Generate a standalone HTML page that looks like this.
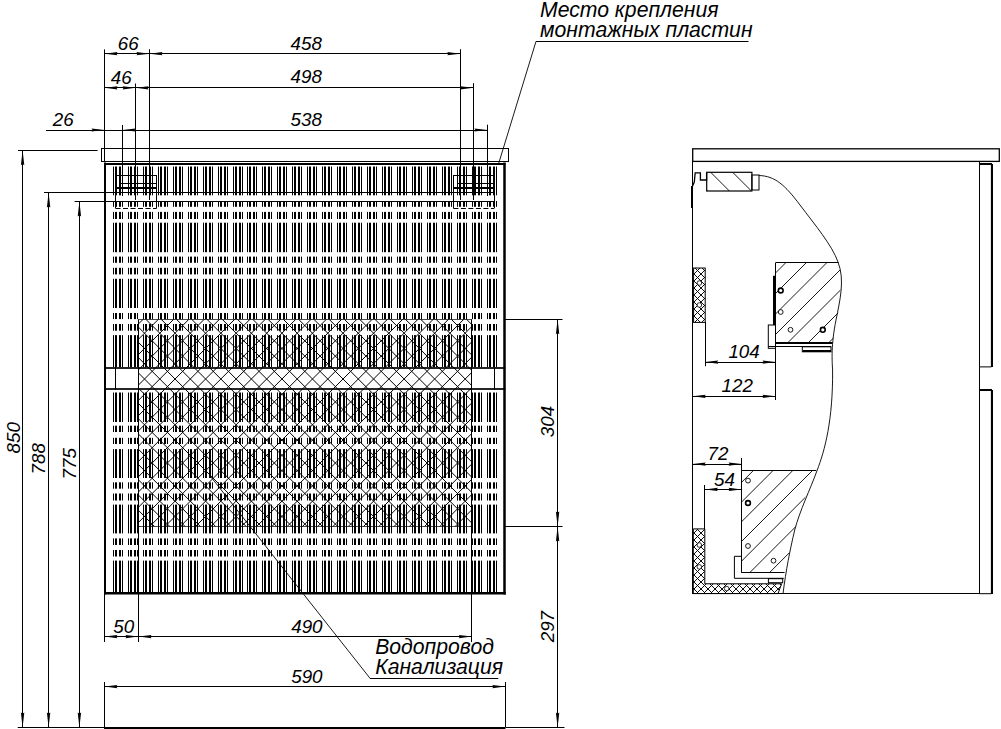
<!DOCTYPE html>
<html><head><meta charset="utf-8"><title>Drawing</title><style>html,body{margin:0;padding:0;background:#fff;width:1001px;height:729px;overflow:hidden}svg{display:block;font-family:"Liberation Sans",sans-serif}</style></head><body>
<svg width="1001" height="729" viewBox="0 0 1001 729" stroke="#000" font-family="Liberation Sans, sans-serif" font-style="italic" fill="#000"><defs><clipPath id="chc"><rect x="138.5" y="319.3" width="333.3" height="207.1"/></clipPath><clipPath id="hb1"><rect x="706.7" y="172.3" width="45.2" height="18.7"/></clipPath><pattern id="xh" patternUnits="userSpaceOnUse" x="1" y="1" width="7" height="7"><path d="M-1 -1L8 8M8 -1L-1 8" stroke="#000" stroke-width="0.95"/></pattern><clipPath id="hb2"><path d="M775.5 262.8H838.5C842 275 841 300 837 320C834 335 833 340 832.5 343H775.5Z"/></clipPath><clipPath id="hb3"><path d="M741.6 470.7H816.3C812 482 807 492 804.6 499.3C800 512 797 520 794.7 530C792 540 790 550 788.2 558.5C786 566 785 570 784.6 572.8H741.6Z"/></clipPath></defs><rect width="1001" height="729" fill="#fff" stroke="none"/><g stroke="none"></g><rect stroke="none" x="113" y="166" width="1" height="201" fill="#000"/>
<rect stroke="none" x="115" y="166" width="2" height="201" fill="#000"/>
<rect stroke="none" x="119" y="166" width="2" height="201" fill="#000"/>
<rect stroke="none" x="122" y="166" width="1" height="201" fill="#000"/>
<rect stroke="none" x="128" y="166" width="1" height="201" fill="#000"/>
<rect stroke="none" x="130" y="166" width="2" height="201" fill="#000"/>
<rect stroke="none" x="134" y="166" width="2" height="201" fill="#000"/>
<rect stroke="none" x="137" y="166" width="1" height="201" fill="#000"/>
<rect stroke="none" x="143" y="166" width="1" height="201" fill="#000"/>
<rect stroke="none" x="145" y="166" width="2" height="201" fill="#000"/>
<rect stroke="none" x="149" y="166" width="2" height="201" fill="#000"/>
<rect stroke="none" x="152" y="166" width="1" height="201" fill="#000"/>
<rect stroke="none" x="158" y="166" width="1" height="201" fill="#000"/>
<rect stroke="none" x="160" y="166" width="2" height="201" fill="#000"/>
<rect stroke="none" x="164" y="166" width="2" height="201" fill="#000"/>
<rect stroke="none" x="167" y="166" width="1" height="201" fill="#000"/>
<rect stroke="none" x="173" y="166" width="1" height="201" fill="#000"/>
<rect stroke="none" x="175" y="166" width="2" height="201" fill="#000"/>
<rect stroke="none" x="179" y="166" width="2" height="201" fill="#000"/>
<rect stroke="none" x="182" y="166" width="1" height="201" fill="#000"/>
<rect stroke="none" x="188" y="166" width="1" height="201" fill="#000"/>
<rect stroke="none" x="190" y="166" width="2" height="201" fill="#000"/>
<rect stroke="none" x="194" y="166" width="2" height="201" fill="#000"/>
<rect stroke="none" x="197" y="166" width="1" height="201" fill="#000"/>
<rect stroke="none" x="203" y="166" width="1" height="201" fill="#000"/>
<rect stroke="none" x="205" y="166" width="2" height="201" fill="#000"/>
<rect stroke="none" x="209" y="166" width="2" height="201" fill="#000"/>
<rect stroke="none" x="212" y="166" width="1" height="201" fill="#000"/>
<rect stroke="none" x="218" y="166" width="1" height="201" fill="#000"/>
<rect stroke="none" x="220" y="166" width="2" height="201" fill="#000"/>
<rect stroke="none" x="224" y="166" width="2" height="201" fill="#000"/>
<rect stroke="none" x="227" y="166" width="1" height="201" fill="#000"/>
<rect stroke="none" x="233" y="166" width="1" height="201" fill="#000"/>
<rect stroke="none" x="235" y="166" width="2" height="201" fill="#000"/>
<rect stroke="none" x="239" y="166" width="2" height="201" fill="#000"/>
<rect stroke="none" x="242" y="166" width="1" height="201" fill="#000"/>
<rect stroke="none" x="247" y="166" width="1" height="201" fill="#000"/>
<rect stroke="none" x="249" y="166" width="2" height="201" fill="#000"/>
<rect stroke="none" x="253" y="166" width="2" height="201" fill="#000"/>
<rect stroke="none" x="256" y="166" width="1" height="201" fill="#000"/>
<rect stroke="none" x="262" y="166" width="1" height="201" fill="#000"/>
<rect stroke="none" x="264" y="166" width="2" height="201" fill="#000"/>
<rect stroke="none" x="268" y="166" width="2" height="201" fill="#000"/>
<rect stroke="none" x="271" y="166" width="1" height="201" fill="#000"/>
<rect stroke="none" x="277" y="166" width="1" height="201" fill="#000"/>
<rect stroke="none" x="279" y="166" width="2" height="201" fill="#000"/>
<rect stroke="none" x="283" y="166" width="2" height="201" fill="#000"/>
<rect stroke="none" x="286" y="166" width="1" height="201" fill="#000"/>
<rect stroke="none" x="292" y="166" width="1" height="201" fill="#000"/>
<rect stroke="none" x="294" y="166" width="2" height="201" fill="#000"/>
<rect stroke="none" x="298" y="166" width="2" height="201" fill="#000"/>
<rect stroke="none" x="301" y="166" width="1" height="201" fill="#000"/>
<rect stroke="none" x="307" y="166" width="1" height="201" fill="#000"/>
<rect stroke="none" x="309" y="166" width="2" height="201" fill="#000"/>
<rect stroke="none" x="313" y="166" width="2" height="201" fill="#000"/>
<rect stroke="none" x="316" y="166" width="1" height="201" fill="#000"/>
<rect stroke="none" x="322" y="166" width="1" height="201" fill="#000"/>
<rect stroke="none" x="324" y="166" width="2" height="201" fill="#000"/>
<rect stroke="none" x="328" y="166" width="2" height="201" fill="#000"/>
<rect stroke="none" x="331" y="166" width="1" height="201" fill="#000"/>
<rect stroke="none" x="337" y="166" width="1" height="201" fill="#000"/>
<rect stroke="none" x="339" y="166" width="2" height="201" fill="#000"/>
<rect stroke="none" x="343" y="166" width="2" height="201" fill="#000"/>
<rect stroke="none" x="346" y="166" width="1" height="201" fill="#000"/>
<rect stroke="none" x="352" y="166" width="1" height="201" fill="#000"/>
<rect stroke="none" x="354" y="166" width="2" height="201" fill="#000"/>
<rect stroke="none" x="358" y="166" width="2" height="201" fill="#000"/>
<rect stroke="none" x="361" y="166" width="1" height="201" fill="#000"/>
<rect stroke="none" x="367" y="166" width="1" height="201" fill="#000"/>
<rect stroke="none" x="369" y="166" width="2" height="201" fill="#000"/>
<rect stroke="none" x="373" y="166" width="2" height="201" fill="#000"/>
<rect stroke="none" x="376" y="166" width="1" height="201" fill="#000"/>
<rect stroke="none" x="382" y="166" width="1" height="201" fill="#000"/>
<rect stroke="none" x="384" y="166" width="2" height="201" fill="#000"/>
<rect stroke="none" x="388" y="166" width="2" height="201" fill="#000"/>
<rect stroke="none" x="391" y="166" width="1" height="201" fill="#000"/>
<rect stroke="none" x="397" y="166" width="1" height="201" fill="#000"/>
<rect stroke="none" x="399" y="166" width="2" height="201" fill="#000"/>
<rect stroke="none" x="403" y="166" width="2" height="201" fill="#000"/>
<rect stroke="none" x="406" y="166" width="1" height="201" fill="#000"/>
<rect stroke="none" x="412" y="166" width="1" height="201" fill="#000"/>
<rect stroke="none" x="414" y="166" width="2" height="201" fill="#000"/>
<rect stroke="none" x="418" y="166" width="2" height="201" fill="#000"/>
<rect stroke="none" x="421" y="166" width="1" height="201" fill="#000"/>
<rect stroke="none" x="427" y="166" width="1" height="201" fill="#000"/>
<rect stroke="none" x="429" y="166" width="2" height="201" fill="#000"/>
<rect stroke="none" x="433" y="166" width="2" height="201" fill="#000"/>
<rect stroke="none" x="436" y="166" width="1" height="201" fill="#000"/>
<rect stroke="none" x="442" y="166" width="1" height="201" fill="#000"/>
<rect stroke="none" x="444" y="166" width="2" height="201" fill="#000"/>
<rect stroke="none" x="448" y="166" width="2" height="201" fill="#000"/>
<rect stroke="none" x="451" y="166" width="1" height="201" fill="#000"/>
<rect stroke="none" x="457" y="166" width="1" height="201" fill="#000"/>
<rect stroke="none" x="459" y="166" width="2" height="201" fill="#000"/>
<rect stroke="none" x="463" y="166" width="2" height="201" fill="#000"/>
<rect stroke="none" x="466" y="166" width="1" height="201" fill="#000"/>
<rect stroke="none" x="472" y="166" width="1" height="201" fill="#000"/>
<rect stroke="none" x="474" y="166" width="2" height="201" fill="#000"/>
<rect stroke="none" x="478" y="166" width="2" height="201" fill="#000"/>
<rect stroke="none" x="481" y="166" width="1" height="201" fill="#000"/>
<rect stroke="none" x="487" y="166" width="1" height="201" fill="#000"/>
<rect stroke="none" x="489" y="166" width="2" height="201" fill="#000"/>
<rect stroke="none" x="493" y="166" width="2" height="201" fill="#000"/>
<rect stroke="none" x="496" y="166" width="1" height="201" fill="#000"/>
<rect stroke="none" x="113" y="392" width="1" height="201" fill="#000"/>
<rect stroke="none" x="115" y="392" width="2" height="201" fill="#000"/>
<rect stroke="none" x="119" y="392" width="2" height="201" fill="#000"/>
<rect stroke="none" x="122" y="392" width="1" height="201" fill="#000"/>
<rect stroke="none" x="128" y="392" width="1" height="201" fill="#000"/>
<rect stroke="none" x="130" y="392" width="2" height="201" fill="#000"/>
<rect stroke="none" x="134" y="392" width="2" height="201" fill="#000"/>
<rect stroke="none" x="137" y="392" width="1" height="201" fill="#000"/>
<rect stroke="none" x="143" y="392" width="1" height="201" fill="#000"/>
<rect stroke="none" x="145" y="392" width="2" height="201" fill="#000"/>
<rect stroke="none" x="149" y="392" width="2" height="201" fill="#000"/>
<rect stroke="none" x="152" y="392" width="1" height="201" fill="#000"/>
<rect stroke="none" x="158" y="392" width="1" height="201" fill="#000"/>
<rect stroke="none" x="160" y="392" width="2" height="201" fill="#000"/>
<rect stroke="none" x="164" y="392" width="2" height="201" fill="#000"/>
<rect stroke="none" x="167" y="392" width="1" height="201" fill="#000"/>
<rect stroke="none" x="173" y="392" width="1" height="201" fill="#000"/>
<rect stroke="none" x="175" y="392" width="2" height="201" fill="#000"/>
<rect stroke="none" x="179" y="392" width="2" height="201" fill="#000"/>
<rect stroke="none" x="182" y="392" width="1" height="201" fill="#000"/>
<rect stroke="none" x="188" y="392" width="1" height="201" fill="#000"/>
<rect stroke="none" x="190" y="392" width="2" height="201" fill="#000"/>
<rect stroke="none" x="194" y="392" width="2" height="201" fill="#000"/>
<rect stroke="none" x="197" y="392" width="1" height="201" fill="#000"/>
<rect stroke="none" x="203" y="392" width="1" height="201" fill="#000"/>
<rect stroke="none" x="205" y="392" width="2" height="201" fill="#000"/>
<rect stroke="none" x="209" y="392" width="2" height="201" fill="#000"/>
<rect stroke="none" x="212" y="392" width="1" height="201" fill="#000"/>
<rect stroke="none" x="218" y="392" width="1" height="201" fill="#000"/>
<rect stroke="none" x="220" y="392" width="2" height="201" fill="#000"/>
<rect stroke="none" x="224" y="392" width="2" height="201" fill="#000"/>
<rect stroke="none" x="227" y="392" width="1" height="201" fill="#000"/>
<rect stroke="none" x="233" y="392" width="1" height="201" fill="#000"/>
<rect stroke="none" x="235" y="392" width="2" height="201" fill="#000"/>
<rect stroke="none" x="239" y="392" width="2" height="201" fill="#000"/>
<rect stroke="none" x="242" y="392" width="1" height="201" fill="#000"/>
<rect stroke="none" x="247" y="392" width="1" height="201" fill="#000"/>
<rect stroke="none" x="249" y="392" width="2" height="201" fill="#000"/>
<rect stroke="none" x="253" y="392" width="2" height="201" fill="#000"/>
<rect stroke="none" x="256" y="392" width="1" height="201" fill="#000"/>
<rect stroke="none" x="262" y="392" width="1" height="201" fill="#000"/>
<rect stroke="none" x="264" y="392" width="2" height="201" fill="#000"/>
<rect stroke="none" x="268" y="392" width="2" height="201" fill="#000"/>
<rect stroke="none" x="271" y="392" width="1" height="201" fill="#000"/>
<rect stroke="none" x="277" y="392" width="1" height="201" fill="#000"/>
<rect stroke="none" x="279" y="392" width="2" height="201" fill="#000"/>
<rect stroke="none" x="283" y="392" width="2" height="201" fill="#000"/>
<rect stroke="none" x="286" y="392" width="1" height="201" fill="#000"/>
<rect stroke="none" x="292" y="392" width="1" height="201" fill="#000"/>
<rect stroke="none" x="294" y="392" width="2" height="201" fill="#000"/>
<rect stroke="none" x="298" y="392" width="2" height="201" fill="#000"/>
<rect stroke="none" x="301" y="392" width="1" height="201" fill="#000"/>
<rect stroke="none" x="307" y="392" width="1" height="201" fill="#000"/>
<rect stroke="none" x="309" y="392" width="2" height="201" fill="#000"/>
<rect stroke="none" x="313" y="392" width="2" height="201" fill="#000"/>
<rect stroke="none" x="316" y="392" width="1" height="201" fill="#000"/>
<rect stroke="none" x="322" y="392" width="1" height="201" fill="#000"/>
<rect stroke="none" x="324" y="392" width="2" height="201" fill="#000"/>
<rect stroke="none" x="328" y="392" width="2" height="201" fill="#000"/>
<rect stroke="none" x="331" y="392" width="1" height="201" fill="#000"/>
<rect stroke="none" x="337" y="392" width="1" height="201" fill="#000"/>
<rect stroke="none" x="339" y="392" width="2" height="201" fill="#000"/>
<rect stroke="none" x="343" y="392" width="2" height="201" fill="#000"/>
<rect stroke="none" x="346" y="392" width="1" height="201" fill="#000"/>
<rect stroke="none" x="352" y="392" width="1" height="201" fill="#000"/>
<rect stroke="none" x="354" y="392" width="2" height="201" fill="#000"/>
<rect stroke="none" x="358" y="392" width="2" height="201" fill="#000"/>
<rect stroke="none" x="361" y="392" width="1" height="201" fill="#000"/>
<rect stroke="none" x="367" y="392" width="1" height="201" fill="#000"/>
<rect stroke="none" x="369" y="392" width="2" height="201" fill="#000"/>
<rect stroke="none" x="373" y="392" width="2" height="201" fill="#000"/>
<rect stroke="none" x="376" y="392" width="1" height="201" fill="#000"/>
<rect stroke="none" x="382" y="392" width="1" height="201" fill="#000"/>
<rect stroke="none" x="384" y="392" width="2" height="201" fill="#000"/>
<rect stroke="none" x="388" y="392" width="2" height="201" fill="#000"/>
<rect stroke="none" x="391" y="392" width="1" height="201" fill="#000"/>
<rect stroke="none" x="397" y="392" width="1" height="201" fill="#000"/>
<rect stroke="none" x="399" y="392" width="2" height="201" fill="#000"/>
<rect stroke="none" x="403" y="392" width="2" height="201" fill="#000"/>
<rect stroke="none" x="406" y="392" width="1" height="201" fill="#000"/>
<rect stroke="none" x="412" y="392" width="1" height="201" fill="#000"/>
<rect stroke="none" x="414" y="392" width="2" height="201" fill="#000"/>
<rect stroke="none" x="418" y="392" width="2" height="201" fill="#000"/>
<rect stroke="none" x="421" y="392" width="1" height="201" fill="#000"/>
<rect stroke="none" x="427" y="392" width="1" height="201" fill="#000"/>
<rect stroke="none" x="429" y="392" width="2" height="201" fill="#000"/>
<rect stroke="none" x="433" y="392" width="2" height="201" fill="#000"/>
<rect stroke="none" x="436" y="392" width="1" height="201" fill="#000"/>
<rect stroke="none" x="442" y="392" width="1" height="201" fill="#000"/>
<rect stroke="none" x="444" y="392" width="2" height="201" fill="#000"/>
<rect stroke="none" x="448" y="392" width="2" height="201" fill="#000"/>
<rect stroke="none" x="451" y="392" width="1" height="201" fill="#000"/>
<rect stroke="none" x="457" y="392" width="1" height="201" fill="#000"/>
<rect stroke="none" x="459" y="392" width="2" height="201" fill="#000"/>
<rect stroke="none" x="463" y="392" width="2" height="201" fill="#000"/>
<rect stroke="none" x="466" y="392" width="1" height="201" fill="#000"/>
<rect stroke="none" x="472" y="392" width="1" height="201" fill="#000"/>
<rect stroke="none" x="474" y="392" width="2" height="201" fill="#000"/>
<rect stroke="none" x="478" y="392" width="2" height="201" fill="#000"/>
<rect stroke="none" x="481" y="392" width="1" height="201" fill="#000"/>
<rect stroke="none" x="487" y="392" width="1" height="201" fill="#000"/>
<rect stroke="none" x="489" y="392" width="2" height="201" fill="#000"/>
<rect stroke="none" x="493" y="392" width="2" height="201" fill="#000"/>
<rect stroke="none" x="496" y="392" width="1" height="201" fill="#000"/>
<rect stroke="none" x="105" y="195.3" width="400.5" height="5.7" fill="#fff"/>
<rect stroke="none" x="105" y="206.8" width="400.5" height="5.1" fill="#fff"/>
<rect stroke="none" x="105" y="219" width="400.5" height="3.7" fill="#fff"/>
<rect stroke="none" x="105" y="252.2" width="400.5" height="4.4" fill="#fff"/>
<rect stroke="none" x="105" y="262.8" width="400.5" height="5" fill="#fff"/>
<rect stroke="none" x="105" y="274.4" width="400.5" height="4.4" fill="#fff"/>
<rect stroke="none" x="105" y="308" width="400.5" height="5" fill="#fff"/>
<rect stroke="none" x="105" y="319.1" width="400.5" height="4.9" fill="#fff"/>
<rect stroke="none" x="105" y="330.7" width="400.5" height="4.4" fill="#fff"/>
<rect stroke="none" x="105" y="422" width="400.5" height="3.7" fill="#fff"/>
<rect stroke="none" x="105" y="432" width="400.5" height="5.8" fill="#fff"/>
<rect stroke="none" x="105" y="444" width="400.5" height="5.1" fill="#fff"/>
<rect stroke="none" x="105" y="478" width="400.5" height="4.3" fill="#fff"/>
<rect stroke="none" x="105" y="488.7" width="400.5" height="4.8" fill="#fff"/>
<rect stroke="none" x="105" y="500.5" width="400.5" height="4.1" fill="#fff"/>
<rect stroke="none" x="105" y="533.4" width="400.5" height="5" fill="#fff"/>
<rect stroke="none" x="105" y="545" width="400.5" height="5" fill="#fff"/>
<rect stroke="none" x="105" y="556.5" width="400.5" height="4.1" fill="#fff"/>
<rect stroke="none" x="105" y="164.5" width="400.5" height="2" fill="#fff"/>
<rect stroke="none" x="105" y="390" width="400.5" height="2.5" fill="#fff"/>
<rect stroke="none" x="105" y="367" width="400.5" height="22.5" fill="#fff"/>
<path clip-path="url(#chc)" d="M114.58 317.3L-96.52 528.4M129.85 317.3L-81.25 528.4M145.12 317.3L-65.98 528.4M160.39 317.3L-50.71 528.4M175.66 317.3L-35.44 528.4M190.93 317.3L-20.17 528.4M206.2 317.3L-4.9 528.4M221.47 317.3L10.37 528.4M236.74 317.3L25.64 528.4M252.01 317.3L40.91 528.4M267.28 317.3L56.18 528.4M282.55 317.3L71.45 528.4M297.82 317.3L86.72 528.4M313.09 317.3L101.99 528.4M328.36 317.3L117.26 528.4M343.63 317.3L132.53 528.4M358.9 317.3L147.8 528.4M374.17 317.3L163.07 528.4M389.44 317.3L178.34 528.4M404.71 317.3L193.61 528.4M419.98 317.3L208.88 528.4M435.25 317.3L224.15 528.4M450.52 317.3L239.42 528.4M465.79 317.3L254.69 528.4M481.06 317.3L269.96 528.4M496.33 317.3L285.23 528.4M511.6 317.3L300.5 528.4M526.87 317.3L315.77 528.4M542.14 317.3L331.04 528.4M557.41 317.3L346.31 528.4M572.68 317.3L361.58 528.4M587.95 317.3L376.85 528.4M603.22 317.3L392.12 528.4M618.49 317.3L407.39 528.4M633.76 317.3L422.66 528.4M649.03 317.3L437.93 528.4M664.3 317.3L453.2 528.4M679.57 317.3L468.47 528.4M694.84 317.3L483.74 528.4M710.11 317.3L499.01 528.4M-100.44 317.3L110.66 528.4M-85.17 317.3L125.93 528.4M-69.9 317.3L141.2 528.4M-54.63 317.3L156.47 528.4M-39.36 317.3L171.74 528.4M-24.09 317.3L187.01 528.4M-8.82 317.3L202.28 528.4M6.45 317.3L217.55 528.4M21.72 317.3L232.82 528.4M36.99 317.3L248.09 528.4M52.26 317.3L263.36 528.4M67.53 317.3L278.63 528.4M82.8 317.3L293.9 528.4M98.07 317.3L309.17 528.4M113.34 317.3L324.44 528.4M128.61 317.3L339.71 528.4M143.88 317.3L354.98 528.4M159.15 317.3L370.25 528.4M174.42 317.3L385.52 528.4M189.69 317.3L400.79 528.4M204.96 317.3L416.06 528.4M220.23 317.3L431.33 528.4M235.5 317.3L446.6 528.4M250.77 317.3L461.87 528.4M266.04 317.3L477.14 528.4M281.31 317.3L492.41 528.4M296.58 317.3L507.68 528.4M311.85 317.3L522.95 528.4M327.12 317.3L538.22 528.4M342.39 317.3L553.49 528.4M357.66 317.3L568.76 528.4M372.93 317.3L584.03 528.4M388.2 317.3L599.3 528.4M403.47 317.3L614.57 528.4M418.74 317.3L629.84 528.4M434.01 317.3L645.11 528.4M449.28 317.3L660.38 528.4M464.55 317.3L675.65 528.4M479.82 317.3L690.92 528.4M495.09 317.3L706.19 528.4" fill="none" stroke="#000" stroke-width="1.0"/>
<line stroke="#000" x1="105" y1="368" x2="505.5" y2="368" stroke-width="2" stroke-opacity="0.85"/>
<line stroke="#000" x1="105" y1="389" x2="505.5" y2="389" stroke-width="2" stroke-opacity="0.85"/>
<line stroke="#000" x1="115.5" y1="367" x2="115.5" y2="389.5" stroke-width="1"/>
<line stroke="#000" x1="494.5" y1="367" x2="494.5" y2="389.5" stroke-width="1"/>
<line stroke="#000" x1="138.5" y1="319.5" x2="471.8" y2="319.5" stroke-width="1" stroke-opacity="0.7"/>
<line stroke="#000" x1="138.5" y1="526.5" x2="471.8" y2="526.5" stroke-width="1" stroke-opacity="0.7"/>
<line stroke="#000" x1="138.5" y1="319.3" x2="138.5" y2="642" stroke-width="1"/>
<line stroke="#000" x1="471.5" y1="319.3" x2="471.5" y2="642" stroke-width="1"/>
<rect stroke="none" x="104" y="162.5" width="2" height="432" fill="#000"/>
<rect stroke="none" x="503.25" y="162.5" width="2.5" height="432" fill="#000"/>
<line stroke="#000" x1="104" y1="164" x2="505.5" y2="164" stroke-width="2"/>
<rect stroke="none" x="104" y="592" width="401.75" height="2.5" fill="#000"/>
<rect x="101.5" y="148.5" width="407" height="13" fill="#fff" stroke="#000" stroke-width="1"/>
<line stroke="#000" x1="115.5" y1="175.5" x2="156.6" y2="175.5" stroke-width="1"/>
<line stroke="#000" x1="119.5" y1="183.5" x2="156.6" y2="183.5" stroke-width="1"/>
<line stroke="#000" x1="115.5" y1="188" x2="156.6" y2="188" stroke-width="2"/>
<line stroke="#000" x1="115.5" y1="175" x2="115.5" y2="208.3" stroke-width="1"/>
<line stroke="#000" x1="156.5" y1="175" x2="156.5" y2="208.3" stroke-width="1"/>
<line stroke="#000" x1="115.5" y1="208.5" x2="156.6" y2="208.5" stroke-width="1" stroke-dasharray="5 2.5"/>
<line stroke="#000" x1="453.4" y1="175.5" x2="494.1" y2="175.5" stroke-width="1"/>
<line stroke="#000" x1="457.4" y1="183.5" x2="494.1" y2="183.5" stroke-width="1"/>
<line stroke="#000" x1="453.4" y1="188" x2="494.1" y2="188" stroke-width="2"/>
<line stroke="#000" x1="453.5" y1="175" x2="453.5" y2="208.3" stroke-width="1"/>
<line stroke="#000" x1="494.5" y1="175" x2="494.5" y2="208.3" stroke-width="1"/>
<line stroke="#000" x1="453.4" y1="208.5" x2="494.1" y2="208.5" stroke-width="1" stroke-dasharray="5 2.5"/>
<line stroke="#000" x1="104.5" y1="49.4" x2="104.5" y2="161" stroke-width="1"/>
<line stroke="#000" x1="149.5" y1="49.2" x2="149.5" y2="200" stroke-width="1"/>
<line stroke="#000" x1="135.5" y1="83.5" x2="135.5" y2="200" stroke-width="1"/>
<line stroke="#000" x1="122.5" y1="125" x2="122.5" y2="196" stroke-width="1"/>
<line stroke="#000" x1="460.5" y1="49.2" x2="460.5" y2="200" stroke-width="1"/>
<line stroke="#000" x1="473.5" y1="83.2" x2="473.5" y2="200" stroke-width="1"/>
<line stroke="#000" x1="487.5" y1="124.7" x2="487.5" y2="196" stroke-width="1"/>
<line stroke="#000" x1="104.5" y1="53.5" x2="460.3" y2="53.5" stroke-width="1"/>
<polygon stroke="none" points="104.5,53.7 117.5,52.1 116.46,53.7 117.5,55.3" fill="#000"/>
<polygon stroke="none" points="149.5,53.7 136.5,52.1 137.54,53.7 136.5,55.3" fill="#000"/>
<polygon stroke="none" points="149.5,53.7 162.5,52.1 161.46,53.7 162.5,55.3" fill="#000"/>
<polygon stroke="none" points="460.3,53.7 447.3,52.1 448.34,53.7 447.3,55.3" fill="#000"/>
<line stroke="#000" x1="104.5" y1="87.5" x2="473.2" y2="87.5" stroke-width="1"/>
<polygon stroke="none" points="104.5,87.8 117.5,86.2 116.46,87.8 117.5,89.4" fill="#000"/>
<polygon stroke="none" points="135.6,87.8 122.6,86.2 123.64,87.8 122.6,89.4" fill="#000"/>
<polygon stroke="none" points="135.6,87.8 148.6,86.2 147.56,87.8 148.6,89.4" fill="#000"/>
<polygon stroke="none" points="473.2,87.8 460.2,86.2 461.24,87.8 460.2,89.4" fill="#000"/>
<line stroke="#000" x1="46" y1="130.5" x2="487.4" y2="130.5" stroke-width="1"/>
<polygon stroke="none" points="104.5,130 91.5,128.4 92.54,130 91.5,131.6" fill="#000"/>
<polygon stroke="none" points="122.5,130 135.5,128.4 134.46,130 135.5,131.6" fill="#000"/>
<polygon stroke="none" points="487.4,130 474.4,128.4 475.44,130 474.4,131.6" fill="#000"/>
<text stroke="none" x="117.8" y="50" font-size="18.8" text-anchor="start">66</text>
<text stroke="none" x="290.6" y="49.6" font-size="18.8" text-anchor="start">458</text>
<text stroke="none" x="110.8" y="84.2" font-size="18.8" text-anchor="start">46</text>
<text stroke="none" x="290.6" y="83.2" font-size="18.8" text-anchor="start">498</text>
<text stroke="none" x="52.8" y="125.6" font-size="18.8" text-anchor="start">26</text>
<text stroke="none" x="290.6" y="126" font-size="18.8" text-anchor="start">538</text>
<line stroke="#000" x1="18" y1="150.5" x2="97.6" y2="150.5" stroke-width="1"/>
<line stroke="#000" x1="44" y1="192.5" x2="494" y2="192.5" stroke-width="1"/>
<line stroke="#000" x1="74.6" y1="201.5" x2="494" y2="201.5" stroke-width="1"/>
<line stroke="#000" x1="22.5" y1="150.3" x2="22.5" y2="727.4" stroke-width="1"/>
<line stroke="#000" x1="48.5" y1="192.6" x2="48.5" y2="727.4" stroke-width="1"/>
<line stroke="#000" x1="79.5" y1="201.5" x2="79.5" y2="727.4" stroke-width="1"/>
<polygon stroke="none" points="22.6,150.3 20.9,165.3 22.6,164.1 24.3,165.3" fill="#000"/>
<polygon stroke="none" points="22.6,727.4 20.9,712.4 22.6,713.6 24.3,712.4" fill="#000"/>
<polygon stroke="none" points="48.6,192.6 46.9,207.6 48.6,206.4 50.3,207.6" fill="#000"/>
<polygon stroke="none" points="48.6,727.4 46.9,712.4 48.6,713.6 50.3,712.4" fill="#000"/>
<polygon stroke="none" points="79.4,201.5 77.7,216.5 79.4,215.3 81.1,216.5" fill="#000"/>
<polygon stroke="none" points="79.4,727.4 77.7,712.4 79.4,713.6 81.1,712.4" fill="#000"/>
<text stroke="none" x="19.8" y="453.4" font-size="18.8" text-anchor="start" transform="rotate(-90 19.8 453.4)">850</text>
<text stroke="none" x="44.5" y="474.5" font-size="18.8" text-anchor="start" transform="rotate(-90 44.5 474.5)">788</text>
<text stroke="none" x="75.7" y="479.5" font-size="18.8" text-anchor="start" transform="rotate(-90 75.7 479.5)">775</text>
<line stroke="#000" x1="505" y1="319.5" x2="562.5" y2="319.5" stroke-width="1"/>
<line stroke="#000" x1="505" y1="526.5" x2="562.5" y2="526.5" stroke-width="1"/>
<line stroke="#000" x1="505.5" y1="727.5" x2="564.5" y2="727.5" stroke-width="1"/>
<line stroke="#000" x1="557.5" y1="319.2" x2="557.5" y2="727.6" stroke-width="1"/>
<polygon stroke="none" points="557.6,319.2 555.9,334.2 557.6,333 559.3,334.2" fill="#000"/>
<polygon stroke="none" points="557.6,526.4 555.9,511.4 557.6,512.6 559.3,511.4" fill="#000"/>
<polygon stroke="none" points="557.6,526.4 555.9,541.4 557.6,540.2 559.3,541.4" fill="#000"/>
<polygon stroke="none" points="557.6,727.6 555.9,712.6 557.6,713.8 559.3,712.6" fill="#000"/>
<text stroke="none" x="554.3" y="437.2" font-size="18.8" text-anchor="start" transform="rotate(-90 554.3 437.2)">304</text>
<text stroke="none" x="554.4" y="642.3" font-size="18.8" text-anchor="start" transform="rotate(-90 554.4 642.3)">297</text>
<line stroke="#000" x1="104.5" y1="594" x2="104.5" y2="642" stroke-width="1"/>
<line stroke="#000" x1="104.5" y1="682" x2="104.5" y2="729" stroke-width="1"/>
<line stroke="#000" x1="505.5" y1="682" x2="505.5" y2="727" stroke-width="1"/>
<line stroke="#000" x1="104.4" y1="636.5" x2="471.8" y2="636.5" stroke-width="1"/>
<polygon stroke="none" points="104.4,636.6 117.4,635 116.36,636.6 117.4,638.2" fill="#000"/>
<polygon stroke="none" points="138.5,636.6 125.5,635 126.54,636.6 125.5,638.2" fill="#000"/>
<polygon stroke="none" points="138.5,636.6 151.5,635 150.46,636.6 151.5,638.2" fill="#000"/>
<polygon stroke="none" points="471.8,636.6 458.8,635 459.84,636.6 458.8,638.2" fill="#000"/>
<line stroke="#000" x1="104.4" y1="686.5" x2="505.3" y2="686.5" stroke-width="1"/>
<polygon stroke="none" points="104.4,686.6 117.4,685 116.36,686.6 117.4,688.2" fill="#000"/>
<polygon stroke="none" points="505.3,686.6 492.3,685 493.34,686.6 492.3,688.2" fill="#000"/>
<text stroke="none" x="113.2" y="632.7" font-size="18.8" text-anchor="start">50</text>
<text stroke="none" x="291.2" y="632.6" font-size="18.8" text-anchor="start">490</text>
<text stroke="none" x="291.2" y="683.3" font-size="18.8" text-anchor="start">590</text>
<line stroke="#000" x1="17.7" y1="727.5" x2="104.4" y2="727.5" stroke-width="1"/>
<line stroke="#000" x1="104.4" y1="728" x2="505.5" y2="728" stroke-width="2"/>
<line stroke="#000" x1="211" y1="477" x2="369.8" y2="678" stroke-width="0.9"/>
<line stroke="#000" x1="369.8" y1="678.5" x2="498.3" y2="678.5" stroke-width="1"/>
<text stroke="none" x="375.2" y="654" font-size="21.2" text-anchor="start">Водопровод</text>
<text stroke="none" x="375.2" y="673.7" font-size="21.2" text-anchor="start">Канализация</text>
<line stroke="#000" x1="498.8" y1="163" x2="536" y2="41.4" stroke-width="0.9"/>
<line stroke="#000" x1="536" y1="41.5" x2="748.5" y2="41.5" stroke-width="1"/>
<text stroke="none" x="540" y="17.3" font-size="21.2" text-anchor="start">Место крепления</text>
<text stroke="none" x="540" y="37.4" font-size="21.2" text-anchor="start">монтажных пластин</text>
<rect x="692.7" y="148.8" width="306.6" height="12.6" fill="#fff" stroke="#000" stroke-width="1.3"/>
<line stroke="#000" x1="692.5" y1="161" x2="692.5" y2="594" stroke-width="1"/>
<line stroke="#000" x1="692.7" y1="593.5" x2="979.5" y2="593.5" stroke-width="1"/>
<line stroke="#000" x1="979.5" y1="161.4" x2="979.5" y2="594" stroke-width="1"/>
<path d="M979.5 164.2H991.4V366.9H979.5" fill="none" stroke="#000" stroke-width="1"/>
<line stroke="#000" x1="980" y1="164" x2="992" y2="164" stroke-width="2"/>
<line stroke="#000" x1="992" y1="164" x2="992" y2="367" stroke-width="2"/>
<path d="M979.5 390.2H991.4V593.7H979.5" fill="none" stroke="#000" stroke-width="1"/>
<line stroke="#000" x1="980" y1="390" x2="992" y2="390" stroke-width="2"/>
<line stroke="#000" x1="992" y1="390" x2="992" y2="594" stroke-width="2"/>
<path d="M759 175.5C775 176 785 185 800 205C815 225 832 245 838 262C845 280 840 300 836 320C831 345 832 360 832.6 370C833 420 825 450 817 470.7C810 490 800 510 794.7 530C790 550 786 570 783 593.7" fill="none" stroke="#000" stroke-width="0.9"/>
<rect x="706.7" y="172.3" width="45.2" height="18.7" fill="none" stroke="#000" stroke-width="1.2"/>
<rect x="751.9" y="175" width="7.1" height="15" fill="none" stroke="#000" stroke-width="1"/>
<path clip-path="url(#hb1)" d="M666.7 172.3L685.4 191M688.7 172.3L707.4 191M710.7 172.3L729.4 191M732.7 172.3L751.4 191M754.7 172.3L773.4 191M776.7 172.3L795.4 191M798.7 172.3L817.4 191" stroke="#000" stroke-width="0.9" fill="none"/>
<path d="M692.6 186L694.3 182L695.2 172.8H700.4V180H706.6V172.8" fill="none" stroke="#000" stroke-width="1.3"/>
<line stroke="#000" x1="691.5" y1="186" x2="691.5" y2="208" stroke-width="1"/>
<rect x="693.6" y="268" width="11.6" height="54.4" fill="url(#xh)" stroke="#000" stroke-width="1"/>
<circle cx="699.4" cy="283" r="2.3" fill="#fff" stroke="#000" stroke-width="0.8"/>
<circle cx="699.4" cy="305" r="2.3" fill="#fff" stroke="#000" stroke-width="0.8"/>
<line stroke="#000" x1="705.5" y1="322" x2="705.5" y2="366.2" stroke-width="1"/>
<line stroke="#000" x1="775.5" y1="343" x2="775.5" y2="400" stroke-width="1"/>
<path clip-path="url(#hb2)" d="M664.5 343L744.7 262.8M685 343L765.2 262.8M705.5 343L785.7 262.8M726 343L806.2 262.8M746.5 343L826.7 262.8M767 343L847.2 262.8M787.5 343L867.7 262.8M808 343L888.2 262.8M828.5 343L908.7 262.8M849 343L929.2 262.8M869.5 343L949.7 262.8M890 343L970.2 262.8" stroke="#000" stroke-width="0.9" fill="none"/>
<line stroke="#000" x1="775.5" y1="262.5" x2="838.5" y2="262.5" stroke-width="1"/>
<line stroke="#000" x1="775.5" y1="343" x2="832.5" y2="343" stroke-width="2"/>
<line stroke="#000" x1="775.5" y1="262.8" x2="775.5" y2="343" stroke-width="1"/>
<line stroke="#000" x1="774" y1="275.7" x2="774" y2="343" stroke-width="2"/>
<rect x="768.3" y="325" width="7.2" height="23.3" fill="#fff" stroke="#000" stroke-width="1"/>
<line stroke="#000" x1="768.3" y1="346.5" x2="831" y2="346.5" stroke-width="1"/>
<rect x="802.3" y="346.8" width="28.7" height="5" fill="none" stroke="#000" stroke-width="1"/>
<line stroke="#000" x1="803" y1="351" x2="831" y2="351" stroke-width="2"/>
<circle cx="780.7" cy="290.5" r="2.4" fill="#fff" stroke="#000" stroke-width="1.6"/>
<circle cx="780.7" cy="312" r="2.4" fill="#fff" stroke="#000" stroke-width="0.9"/>
<circle cx="790.5" cy="329.8" r="2.4" fill="#fff" stroke="#000" stroke-width="0.9"/>
<circle cx="822.8" cy="329.8" r="2.4" fill="#fff" stroke="#000" stroke-width="1.6"/>
<line stroke="#000" x1="705.2" y1="362.5" x2="775.5" y2="362.5" stroke-width="1"/>
<polygon stroke="none" points="705.2,362.1 718.2,360.5 717.16,362.1 718.2,363.7" fill="#000"/>
<polygon stroke="none" points="775.5,362.1 762.5,360.5 763.54,362.1 762.5,363.7" fill="#000"/>
<text stroke="none" x="728.4" y="357.8" font-size="18.8" text-anchor="start">104</text>
<line stroke="#000" x1="692.7" y1="396.5" x2="775.5" y2="396.5" stroke-width="1"/>
<polygon stroke="none" points="692.7,396.3 705.7,394.7 704.66,396.3 705.7,397.9" fill="#000"/>
<polygon stroke="none" points="775.5,396.3 762.5,394.7 763.54,396.3 762.5,397.9" fill="#000"/>
<text stroke="none" x="721.6" y="391.5" font-size="18.8" text-anchor="start">122</text>
<line stroke="#000" x1="741.5" y1="458" x2="741.5" y2="470.7" stroke-width="1"/>
<line stroke="#000" x1="692.7" y1="464.5" x2="741.6" y2="464.5" stroke-width="1"/>
<polygon stroke="none" points="692.7,464.1 705.7,462.5 704.66,464.1 705.7,465.7" fill="#000"/>
<polygon stroke="none" points="741.6,464.1 728.6,462.5 729.64,464.1 728.6,465.7" fill="#000"/>
<text stroke="none" x="707.5" y="460.2" font-size="18.8" text-anchor="start">72</text>
<line stroke="#000" x1="704.5" y1="485" x2="704.5" y2="529" stroke-width="1"/>
<line stroke="#000" x1="704.8" y1="489.5" x2="741.6" y2="489.5" stroke-width="1"/>
<polygon stroke="none" points="704.8,489.4 717.8,487.8 716.76,489.4 717.8,491" fill="#000"/>
<polygon stroke="none" points="741.6,489.4 728.6,487.8 729.64,489.4 728.6,491" fill="#000"/>
<text stroke="none" x="714.1" y="486.2" font-size="18.8" text-anchor="start">54</text>
<path clip-path="url(#hb3)" d="M592 572.8L694.1 470.7M611.7 572.8L713.8 470.7M631.4 572.8L733.5 470.7M651.1 572.8L753.2 470.7M670.8 572.8L772.9 470.7M690.5 572.8L792.6 470.7M710.2 572.8L812.3 470.7M729.9 572.8L832 470.7M749.6 572.8L851.7 470.7M769.3 572.8L871.4 470.7M789 572.8L891.1 470.7M808.7 572.8L910.8 470.7M828.4 572.8L930.5 470.7M848.1 572.8L950.2 470.7" stroke="#000" stroke-width="0.9" fill="none"/>
<line stroke="#000" x1="741.6" y1="470.5" x2="816.3" y2="470.5" stroke-width="1"/>
<line stroke="#000" x1="741.5" y1="470.7" x2="741.5" y2="572.8" stroke-width="1"/>
<line stroke="#000" x1="741.6" y1="572.5" x2="784.6" y2="572.5" stroke-width="1"/>
<path d="M741.6 556.3H734.4V578.3H783.8" fill="none" stroke="#000" stroke-width="1"/>
<rect x="768.4" y="578.7" width="14.3" height="4" fill="none" stroke="#000" stroke-width="1"/>
<circle cx="748" cy="480.6" r="2.4" fill="#fff" stroke="#000" stroke-width="0.9"/>
<circle cx="748" cy="503" r="2.4" fill="#fff" stroke="#000" stroke-width="1.6"/>
<circle cx="748" cy="546" r="2.4" fill="#fff" stroke="#000" stroke-width="0.9"/>
<circle cx="773.5" cy="560.7" r="2.4" fill="#fff" stroke="#000" stroke-width="0.9"/>
<path d="M693.3 528.9H704.8V583.8H781.6L778 593.6H693.3Z" fill="url(#xh)" stroke="#000" stroke-width="1.0"/>
<circle cx="699.3" cy="545" r="2.3" fill="#fff" stroke="#000" stroke-width="0.8"/>
<circle cx="699.3" cy="566.9" r="2.3" fill="#fff" stroke="#000" stroke-width="0.8"/>
<circle cx="726.7" cy="588.6" r="2.3" fill="#fff" stroke="#000" stroke-width="0.8"/></svg>
</body></html>
